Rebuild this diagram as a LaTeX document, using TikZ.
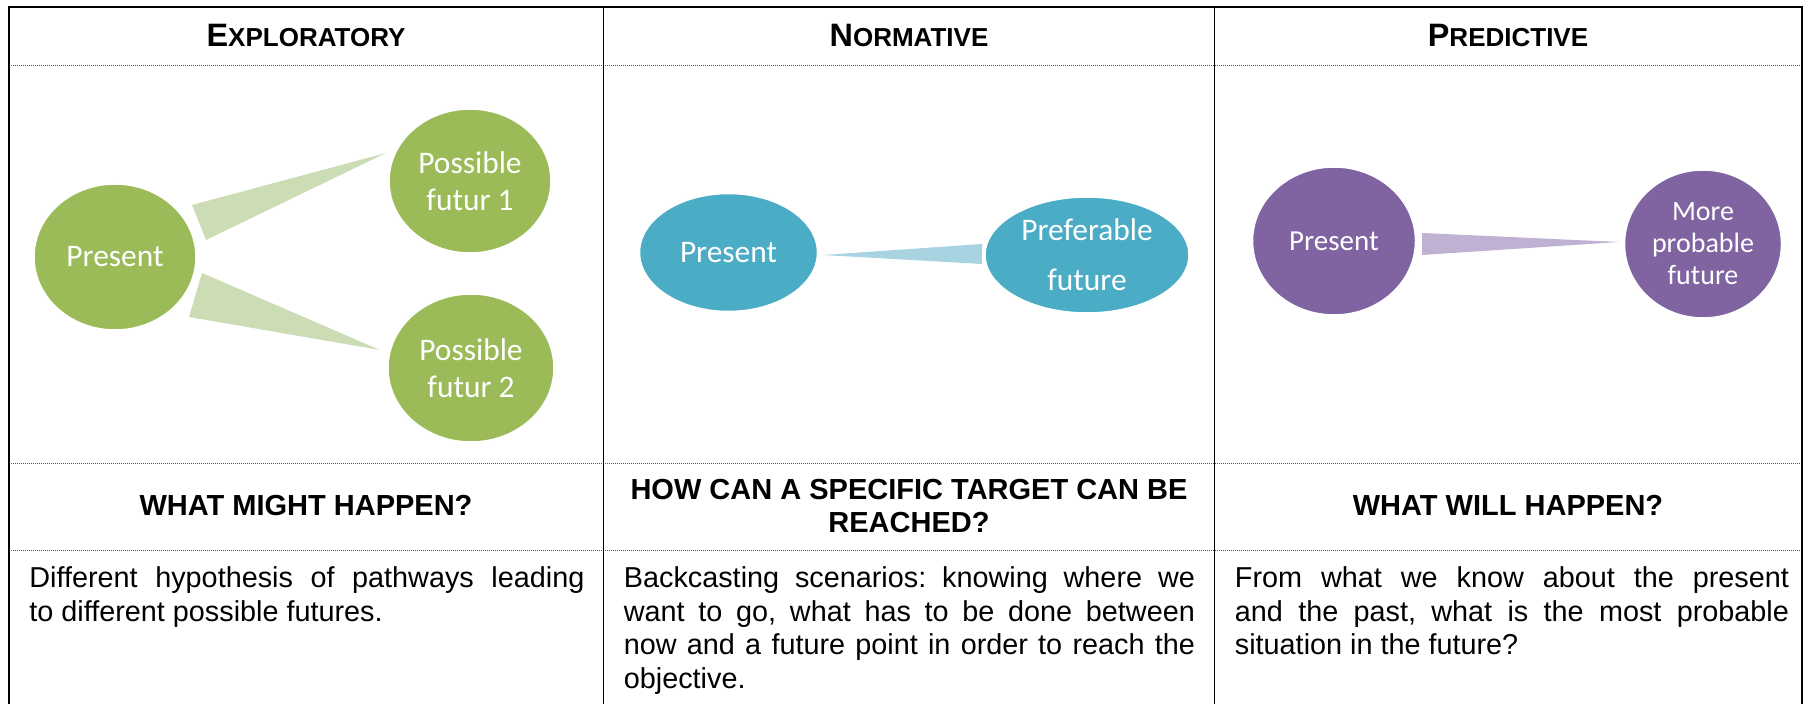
\documentclass[tikz,border=0pt]{standalone}
\usepackage{fontspec}
\setmainfont{Liberation Sans}
\newfontfamily\calibrifont{Carlito}
\usetikzlibrary{shapes.geometric,calc}
\frenchspacing
\definecolor{ggreen}{HTML}{9BBB59}
\definecolor{lgreen}{HTML}{CCDDB5}
\definecolor{gblue}{HTML}{4BACC6}
\definecolor{lblue}{HTML}{A8D3E0}
\definecolor{gpurple}{HTML}{8064A2}
\definecolor{lpurple}{HTML}{BFB1D1}
\definecolor{dotgrey}{HTML}{555555}
\newcommand\hdrtext[2]{{\fontsize{16.2}{18}\selectfont\bfseries #1{\fontsize{13}{14}\selectfont #2}}}
\begin{document}
\begin{tikzpicture}[x=0.5pt,y=-0.5pt,
  outer/.style={line width=1pt,black},
  divider/.style={line width=0.8pt,black},
  dotline/.style={line width=0.5pt,dotgrey,dash pattern=on 0.5pt off 0.5pt},
  header/.style={inner sep=0pt,anchor=base},
  question/.style={inner sep=0pt,font=\fontsize{14.5}{16.5}\selectfont\bfseries,align=center},
  body/.style={inner sep=0pt,anchor=base west,align=justify,font=\fontsize{14.4}{16.75}\selectfont},
  blob/.style={ellipse,inner sep=0pt,draw=white,line width=0.75pt,text=white,align=center},
  gtext/.style={font=\calibrifont\fontsize{15.7}{18.5}\selectfont},
  btext/.style={font=\calibrifont\fontsize{15.7}{25}\selectfont},
  ptext/.style={font=\calibrifont\fontsize{14}{16}\selectfont},
]
\useasboundingbox (0,0) rectangle (1808,704);

% table rules
\draw[dotline] (9,66) -- (1802,66);
\draw[dotline] (9,464) -- (1802,464);
\draw[dotline] (9,551) -- (1802,551);
\draw[divider] (603.5,7) -- (603.5,704);
\draw[divider] (1214.5,7) -- (1214.5,704);
\draw[outer] (9,704) -- (9,7) -- (1802,7) -- (1802,704);

% headers
\node[header] (h1) at (306,47) {\hdrtext{E}{XPLORATORY}};
\node[header] (h2) at (909,47) {\hdrtext{N}{ORMATIVE}};
\node[header] (h3) at (1508,47) {\hdrtext{P}{REDICTIVE}};

% green panel
\node[blob,fill=ggreen,gtext,minimum width=81pt,minimum height=73pt] (gp) at (115,257) {Present};
\node[blob,fill=ggreen,gtext,minimum width=81pt,minimum height=72pt] (gf1) at (470,181) {Possible\\futur 1};
\node[blob,fill=ggreen,gtext,minimum width=83pt,minimum height=74pt] (gf2) at (471,368) {Possible\\futur 2};
\fill[lgreen] ($(gp)+(77,-52)$) -- ($(gp)+(91,-17)$) -- ($(gf1)+(-84,-28)$) -- cycle;
\fill[lgreen] ($(gp)+(87,16)$) -- ($(gp)+(74,60)$) -- ($(gf2)+(-91,-18)$) -- cycle;

% blue panel
\node[blob,fill=gblue,btext,minimum width=89pt,minimum height=59pt] (bp) at (728.5,252.5) {Present};
\node[blob,fill=gblue,btext,minimum width=102pt,minimum height=58pt] (bf) at (1087,255) {Preferable\\future};
\fill[lblue] ($(bp)+(94.5,2.5)$) -- ($(bf)+(-105,-11)$) -- ($(bf)+(-105,9)$) -- cycle;

% purple panel
\node[blob,fill=gpurple,ptext,font=\calibrifont\fontsize{14.5}{16}\selectfont,minimum width=81.5pt,minimum height=74pt] (pp) at (1334,241) {Present};
\node[blob,fill=gpurple,ptext,minimum width=78.5pt,minimum height=74pt] (pf) at (1703,244) {More\\probable\\future};
\fill[lpurple] ($(pp)+(88,-8)$) -- ($(pp)+(88,14)$) -- ($(pf)+(-84,-2)$) -- cycle;

% questions
\node[question,anchor=base] (q1) at (306,516) {WHAT MIGHT HAPPEN?};
\node[question] (q2) at (909,506) {HOW CAN A SPECIFIC TARGET CAN BE\\REACHED?};
\node[question,anchor=base] (q3) at (1508,516) {WHAT WILL HAPPEN?};

% descriptions
\node[body,text width=277.5pt] (d1) at (29,588) {Different hypothesis of pathways leading\linebreak to different possible futures.};
\node[body,text width=285.5pt] (d2) at (623.5,588) {Backcasting scenarios: knowing where we\linebreak want to go, what has to be done between\linebreak now and a future point in order to reach the\linebreak objective.};
\node[body,text width=277pt] (d3) at (1234.5,588) {From what we know about the present\linebreak and the past, what is the most probable\linebreak situation in the future?};
\end{tikzpicture}
\end{document}
